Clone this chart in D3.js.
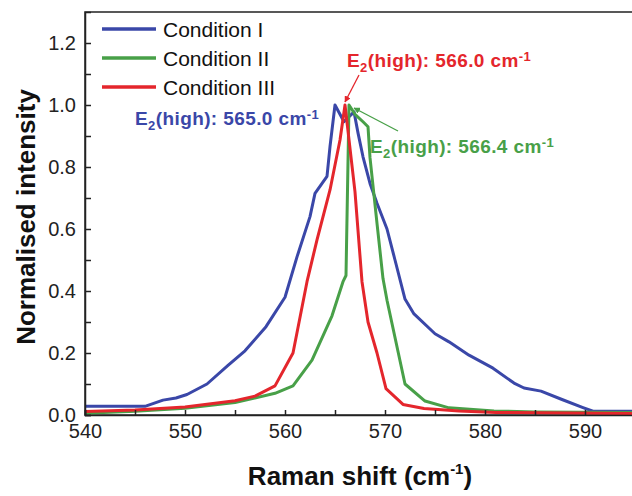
<!DOCTYPE html>
<html>
<head>
<meta charset="utf-8">
<script src="https://cdn.jsdelivr.net/npm/d3@7"></script>
<style>
  body { margin: 0; background: #fff; }
  text { font-family: "Liberation Sans", Arial, sans-serif; }
</style>
</head>
<body>
<div id="chart"></div>
<script>
// Raman shift (cm-1) and normalised intensity.
var shiftI = [540, 546, 547.8, 549.1, 550.2, 552.2, 554.3, 556, 558.1, 560, 561.2, 562.5, 563, 564.2, 564.5, 565, 565.9, 566.9, 567.3, 567.8, 568.5, 569.2, 570.2, 571, 572, 572.9, 575, 576.4, 578.4, 580.8, 582.9, 583.9, 585.6, 587.7, 589.8, 590.8, 595];
var intensityI = [0.028, 0.028, 0.048, 0.055, 0.066, 0.1, 0.16, 0.207, 0.285, 0.38, 0.51, 0.64, 0.715, 0.77, 0.866, 1.0, 0.946, 0.978, 0.91, 0.833, 0.747, 0.683, 0.6, 0.5, 0.374, 0.326, 0.262, 0.236, 0.193, 0.151, 0.103, 0.087, 0.077, 0.05, 0.024, 0.012, 0.012];

var shiftII = [540, 545, 550, 555, 559, 560.8, 562.7, 564.7, 565.8, 566.1, 566.4, 567, 567.8, 568.3, 568.5, 569.2, 569.8, 570.2, 572, 574, 576.4, 580.9, 585, 595];
var intensityII = [0.006, 0.012, 0.022, 0.04, 0.07, 0.094, 0.177, 0.32, 0.43, 0.45, 1.0, 0.97, 0.946, 0.93, 0.83, 0.618, 0.44, 0.37, 0.1, 0.045, 0.023, 0.013, 0.01, 0.008];

var shiftIII = [540, 545, 550, 555, 557, 559, 560.8, 562.2, 563.2, 564.5, 565.5, 566, 566.5, 567, 567.7, 568.3, 569.2, 570.1, 571.8, 573.9, 577.4, 581.1, 595];
var intensityIII = [0.011, 0.016, 0.026, 0.046, 0.061, 0.094, 0.2, 0.43, 0.565, 0.726, 0.887, 1.0, 0.86, 0.72, 0.43, 0.3, 0.2, 0.085, 0.034, 0.021, 0.013, 0.008, 0.005];

var seriesNames = ["Condition I", "Condition II", "Condition III"];
var seriesColors = ["#3a47a8", "#48a048", "#e4262c"];

var xTickValues = [540, 550, 560, 570, 580, 590];
var yTickValues = [0.0, 0.2, 0.4, 0.6, 0.8, 1.0, 1.2];

var width = 632, height = 496;
var m = { left: 85, top: 12, right: -3, bottom: 81 };

var svg = d3.select("#chart").append("svg")
    .attr("width", width)
    .attr("height", height);

var x = d3.scaleLinear().domain([540, 595]).range([m.left, width - m.right]);
var y = d3.scaleLinear().domain([0, 1.3]).range([height - m.bottom, m.top]);

// frame (right side falls outside the picture)
svg.append("rect")
    .attr("x", x(540)).attr("y", y(1.3))
    .attr("width", x(595) - x(540)).attr("height", y(0) - y(1.3))
    .attr("fill", "none").attr("stroke", "#222").attr("stroke-width", 1.5);

// curves
var series = [
  { xs: shiftI, ys: intensityI },
  { xs: shiftII, ys: intensityII },
  { xs: shiftIII, ys: intensityIII }
];
var line = d3.line()
    .x(function(d) { return x(d[0]); })
    .y(function(d) { return y(d[1]); });

series.forEach(function(s, i) {
  svg.append("path")
      .datum(d3.zip(s.xs, s.ys))
      .attr("d", line)
      .attr("fill", "none")
      .attr("stroke", seriesColors[i])
      .attr("stroke-width", 3)
      .attr("stroke-linejoin", "round");
});

// axes, ticks inward
var xAxis = svg.append("g")
    .attr("transform", "translate(0," + y(0) + ")")
    .call(d3.axisBottom(x).tickValues(d3.range(540, 596, 5)).tickSize(-5).tickPadding(9)
      .tickFormat(function(d) { return xTickValues.indexOf(d) >= 0 ? d : ""; }));
var yAxis = svg.append("g")
    .attr("transform", "translate(" + x(540) + ",0)")
    .call(d3.axisLeft(y).tickValues(d3.range(0, 13).map(function(k) { return k / 10; })).tickSize(-6).tickPadding(9)
      .tickFormat(function(d) { return yTickValues.some(function(v) { return Math.abs(v - d) < 1e-9; }) ? d3.format(".1f")(d) : ""; }));

[xAxis, yAxis].forEach(function(a) {
  a.select(".domain").attr("stroke", "#222").attr("stroke-width", 1.5);
  a.selectAll(".tick line").attr("stroke", "#222").attr("stroke-width", 1.5);
  a.selectAll(".tick text").attr("fill", "#222").style("font-size", "20px")
      .style("font-family", "'Liberation Sans', Arial, sans-serif");
});

// axis titles
svg.append("text")
    .attr("transform", "translate(35," + 217 + ") rotate(-90)")
    .attr("text-anchor", "middle")
    .style("font-size", "26px").style("font-weight", "bold").attr("fill", "#111")
    .text("Normalised intensity");

var xt = svg.append("text")
    .attr("x", 360).attr("y", 485)
    .attr("text-anchor", "middle")
    .style("font-size", "26px").style("font-weight", "bold").attr("fill", "#111");
xt.append("tspan").text("Raman shift (cm");
xt.append("tspan").attr("dy", -11).style("font-size", "15px").text("-1");
xt.append("tspan").attr("dy", 11).text(")");

// legend
var legend = svg.append("g");
seriesNames.forEach(function(name, i) {
  var ly = 29 + i * 29;
  legend.append("line")
      .attr("x1", 102).attr("x2", 156).attr("y1", ly).attr("y2", ly)
      .attr("stroke", seriesColors[i]).attr("stroke-width", 3.5);
  legend.append("text")
      .attr("x", 163).attr("y", ly + 8)
      .style("font-size", "21px").attr("fill", "#111")
      .text(name);
});

// annotations
svg.append("defs").selectAll("marker")
    .data([1, 2])
    .enter().append("marker")
    .attr("id", function(d) { return "head" + d; })
    .attr("viewBox", "0 0 10 10").attr("refX", 9).attr("refY", 5)
    .attr("markerWidth", 5).attr("markerHeight", 5)
    .attr("orient", "auto")
    .append("path").attr("d", "M0,0 L10,5 L0,10 z")
    .attr("fill", function(d) { return seriesColors[d]; });

function label(px, py, value, color) {
  var t = svg.append("text")
      .attr("x", px).attr("y", py)
      .style("font-size", "19px").style("font-weight", "bold")
      .style("letter-spacing", "0.4px").attr("fill", color);
  t.append("tspan").text("E");
  t.append("tspan").attr("dy", 5).style("font-size", "13px").text("2");
  t.append("tspan").attr("dy", -5).text("(high): " + value + " cm");
  t.append("tspan").attr("dy", -6).style("font-size", "13px").text("-1");
}
label(135, 125, "565.0", seriesColors[0]);
label(347, 67, "566.0", seriesColors[2]);
label(370, 153, "566.4", seriesColors[1]);

svg.append("line")
    .attr("x1", 359).attr("y1", 75).attr("x2", x(566)).attr("y2", y(1.0) - 3)
    .attr("stroke", seriesColors[2]).attr("stroke-width", 1.3)
    .attr("marker-end", "url(#head2)");
svg.append("line")
    .attr("x1", 398).attr("y1", 131).attr("x2", x(566.4) + 5).attr("y2", y(1.0) + 3)
    .attr("stroke", seriesColors[1]).attr("stroke-width", 1.3)
    .attr("marker-end", "url(#head1)");
</script>
</body>
</html>
